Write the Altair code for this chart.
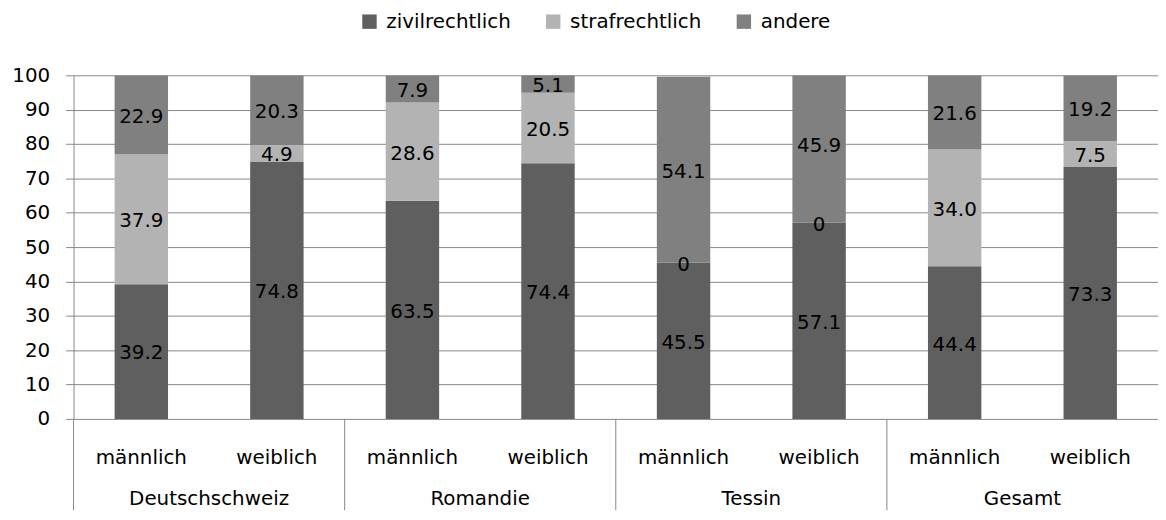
import altair as alt
import pandas as pd

regions = ["Deutschschweiz", "Romandie", "Tessin", "Gesamt"]
genders = ["männlich", "weiblich"]
series_names = ["zivilrechtlich", "strafrechtlich", "andere"]
zivil = [39.2, 74.8, 63.5, 74.4, 45.5, 57.1, 44.4, 73.3]
straf = [37.9, 4.9, 28.6, 20.5, 0.0, 0.0, 34.0, 7.5]
andere = [22.9, 20.3, 7.9, 5.1, 54.1, 45.9, 21.6, 19.2]
colors = ["#5f5f5f", "#b3b3b3", "#808080"]
y_ticks = list(range(0, 101, 10))

FONT = "DejaVu Sans"
FS = 20
GRID = "#878787"
W = 1092
H = 346

rows = []
for i in range(len(zivil)):
    for k, (s, vals) in enumerate(zip(series_names, [zivil, straf, andere])):
        v = vals[i]
        rows.append(dict(idx=i, region=regions[i // 2], gender=genders[i % 2],
                         series=s, order=k, value=v,
                         label=("0" if v == 0 else f"{v:.1f}")))
df = pd.DataFrame(rows)
cats = pd.DataFrame({"idx": list(range(len(zivil))),
                     "gender": [genders[i % 2] for i in range(len(zivil))]})
regs = pd.DataFrame({"g": list(range(len(regions))), "region": regions})

x_scale = alt.Scale(domain=[0, 8], nice=False, zero=False)
y_scale = alt.Scale(domain=[0, 100], nice=False, clamp=True)
y_axis = alt.Axis(values=y_ticks, grid=True, gridColor=GRID, gridWidth=1,
                  domain=True, domainColor=GRID, ticks=True, tickSize=8,
                  tickColor=GRID, labelFont=FONT, labelFontSize=FS,
                  labelColor="black", labelPadding=16, title=None)

base = alt.Chart(df).transform_stack(
    stack="value", groupby=["idx"], as_=["y0", "y1"],
    sort=[alt.SortField(field="order", order="ascending")]
).transform_calculate(
    xs="datum.idx + 0.303", xe="datum.idx + 0.697",
    xm="datum.idx + 0.5", ym="(datum.y0 + datum.y1) / 2"
)

bars = base.mark_bar(clip=True).encode(
    x=alt.X("xs:Q", scale=x_scale, axis=None),
    x2="xe:Q",
    y=alt.Y("y0:Q", scale=y_scale, axis=y_axis),
    y2="y1:Q",
    color=alt.Color("series:N",
                    scale=alt.Scale(domain=series_names, range=colors),
                    legend=alt.Legend(orient="none", legendX=288, legendY=-64,
                                      direction="horizontal", title=None,
                                      symbolType="square", symbolSize=210,
                                      symbolStrokeWidth=0, labelFont=FONT,
                                      labelFontSize=FS, labelColor="black",
                                      columnPadding=32, labelOffset=7)),
)

labels = base.mark_text(font=FONT, fontSize=FS, color="black",
                        baseline="middle", align="center", dy=2).encode(
    x=alt.X("xm:Q", scale=x_scale, axis=None),
    y=alt.Y("ym:Q", scale=y_scale, axis=y_axis),
    text="label:N",
)

gender_text = alt.Chart(cats).transform_calculate(
    xm="datum.idx + 0.5"
).mark_text(font=FONT, fontSize=FS, color="black", baseline="alphabetic",
            align="center").encode(
    x=alt.X("xm:Q", scale=x_scale, axis=None),
    y=alt.value(H + 45),
    text="gender:N",
)

region_text = alt.Chart(regs).transform_calculate(
    xm="2 * datum.g + 1"
).mark_text(font=FONT, fontSize=FS, color="black", baseline="alphabetic",
            align="center").encode(
    x=alt.X("xm:Q", scale=x_scale, axis=None),
    y=alt.value(H + 87),
    text="region:N",
)

seps = alt.Chart(regs).transform_calculate(
    xl="2 * datum.g"
).mark_rule(color=GRID, strokeWidth=1).encode(
    x=alt.X("xl:Q", scale=x_scale, axis=None),
    y=alt.value(H),
    y2=alt.value(H + 92),
)

chart = alt.layer(seps, bars, labels, gender_text, region_text).properties(
    width=W, height=H,
    padding={"left": 3, "top": 2, "right": 0, "bottom": 0}
).configure_view(stroke=None)

chart.save("out.html", embed_options={"renderer": "svg", "actions": False})
